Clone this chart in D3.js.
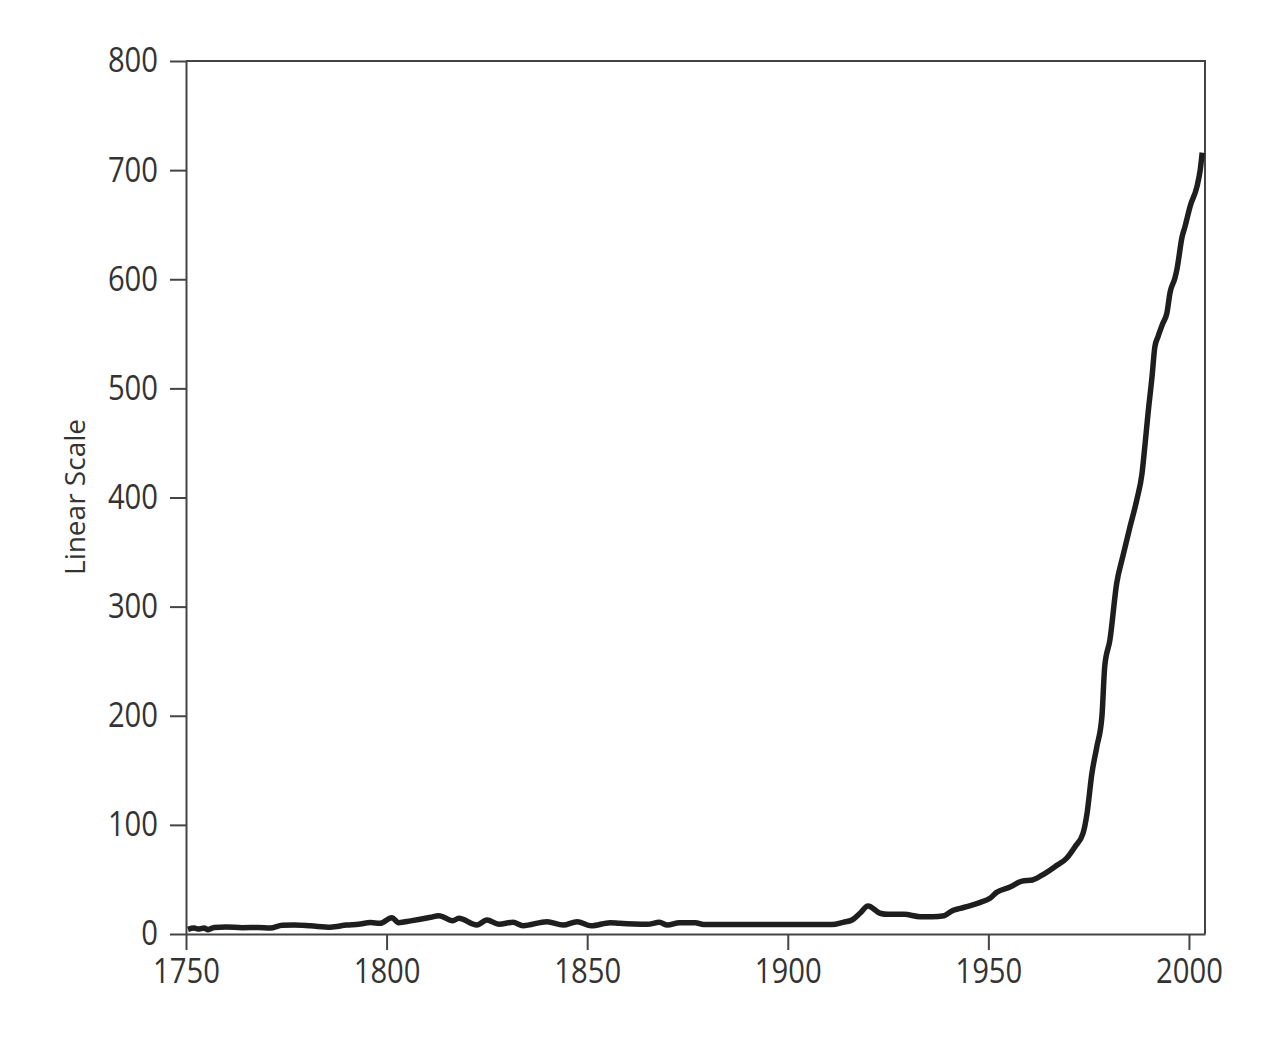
<!DOCTYPE html>
<html>
<head>
<meta charset="utf-8">
<script src="https://cdn.jsdelivr.net/npm/d3@7"></script>
<style>
  body { margin: 0; background: #fff; }
  .axis text { font-family: "Open Sans", sans-serif; font-size: 34px; fill: #333; }
  .axis path, .axis line { stroke: #444; stroke-width: 2px; }
</style>
</head>
<body>
<main></main>
<script>
// years
const years = [
  1750.5, 1752, 1753, 1754.5, 1755.5, 1757, 1760, 1764, 1768, 1771, 1774, 1777, 1781, 1786,
  1790, 1793, 1796, 1798.4, 1801.3, 1803, 1806, 1811, 1813, 1816.5, 1818, 1822.5, 1825,
  1828, 1831.5, 1834, 1840, 1844, 1847.5, 1851, 1855.7, 1858, 1865, 1868, 1870, 1873,
  1877, 1879, 1911, 1913.8, 1916, 1918, 1920, 1923, 1925, 1929, 1933, 1936, 1939, 1941,
  1943, 1945.5, 1948, 1950.4, 1952, 1955.4, 1958.4, 1961, 1963.4, 1966.6, 1969.5, 1971.6,
  1973.6, 1974.6, 1975.8, 1977, 1978.3, 1979, 1980.3, 1982, 1983.5, 1985.3, 1987, 1988.3,
  1989, 1989.8, 1990.8, 1991.5, 1992.3, 1993.5, 1994.5, 1995.3, 1996.5, 1997, 1998.3,
  1999, 2000.3, 2002, 2002.8, 2003.3
];
const values = [
  4.3, 5.5, 4.5, 5.5, 4, 6, 6.5, 5.8, 6, 5.5, 8, 8.2, 7.5, 6.3,
  8.2, 9, 10.5, 9.8, 15, 10.4, 12, 15.3, 16.8, 12.2, 14.4, 8.2, 12.8,
  8.9, 10.7, 7.6, 11.3, 8.2, 11.3, 7.5, 10.4, 9.8, 8.9, 10.7, 8.2, 10.4,
  10.4, 8.6, 8.6, 10.7, 12.8, 19, 25.7, 19, 18, 18, 15.9, 15.9, 16.8, 21.4,
  23.5, 26, 29, 32.7, 38, 43, 48.5, 49.5, 54, 61.7, 69.4, 80,
  92.3, 110.6, 147, 171, 199, 245, 269.5, 321.7, 345.8, 373, 397.8, 422,
  446.7, 477, 510.8, 538, 547.5, 559.7, 569, 588, 601, 609, 639,
  648, 667, 685, 700, 716
];
const xTicks = [1750, 1800, 1850, 1900, 1950, 2000];
const yTicks = [0, 100, 200, 300, 400, 500, 600, 700, 800];

const margin = { top: 61, left: 186 };
const w = 1019;
const h = 873;
const squeeze = 0.86; // condensed look for tick labels

const data = years.map((y, i) => ({ year: y, value: values[i] }));

const xScale = d3.scaleLinear().domain([1750, 2004]).range([0, w]);
const yScale = d3.scaleLinear().domain([0, 800]).range([h, 0]);

let svg = d3
  .select("main")
  .append("svg")
  .attr("width", 1286)
  .attr("height", 1042)
  .append("g")
  .attr("transform", `translate(${margin.left},${margin.top})`);

// frame (top and right)
svg.append("path")
  .attr("d", `M0,0H${w}V${h}`)
  .attr("fill", "none")
  .attr("stroke", "#444")
  .attr("stroke-width", 2);

// x-axis
svg.append("g")
  .attr("class", "axis")
  .attr("transform", `translate(0, ${h})`)
  .call(d3.axisBottom(xScale).tickValues(xTicks).tickFormat(d3.format("d")).tickSize(16).tickSizeOuter(0).tickPadding(9))
  .selectAll("text")
  .attr("transform", `scale(${squeeze},1)`);

// y-axis
svg.append("g")
  .attr("class", "axis")
  .call(d3.axisLeft(yScale).tickValues(yTicks).tickSize(16).tickSizeOuter(0).tickPadding(12))
  .selectAll("text")
  .attr("x", -28 / squeeze)
  .attr("transform", `scale(${squeeze},1)`);

// y-axis label
svg.append("text")
  .attr("transform", "rotate(-90)")
  .attr("x", -(497 - margin.top))
  .attr("y", 85 - margin.left)
  .attr("text-anchor", "middle")
  .style("font-family", "'Open Sans', sans-serif")
  .style("font-size", "28px")
  .style("fill", "#333")
  .text("Linear Scale");

// the line
const line = d3.line()
  .curve(d3.curveMonotoneX)
  .x(d => xScale(d.year))
  .y(d => yScale(d.value));

svg.append("path")
  .datum(data)
  .attr("d", line)
  .attr("fill", "none")
  .attr("stroke", "#1e1e1e")
  .attr("stroke-width", 5.5)
  .attr("stroke-linejoin", "round");
</script>
</body>
</html>
